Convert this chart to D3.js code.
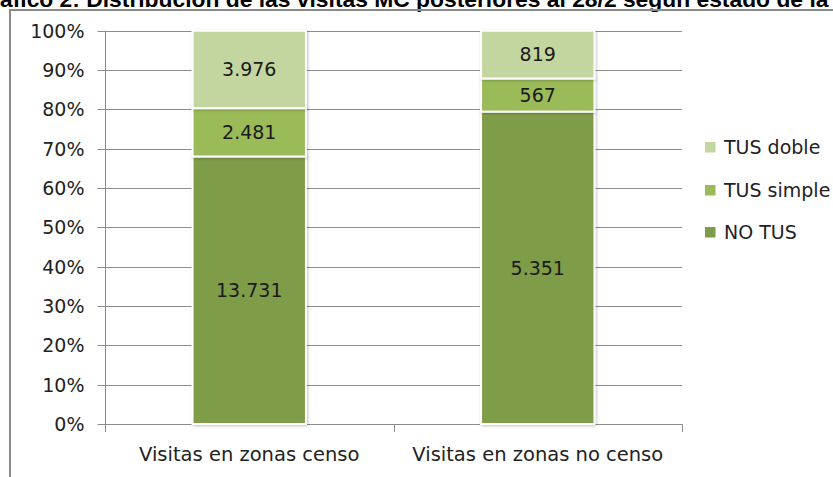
<!DOCTYPE html>
<html><head><meta charset="utf-8">
<script src="https://cdn.jsdelivr.net/npm/d3@7"></script>
<style>
html,body{margin:0;padding:0;background:#fff;overflow:hidden;}
svg{display:block;}
</style></head>
<body>
<svg id="chart" width="833" height="477"></svg>
<script>
// ---- data ----
const title = "Gráfico 2: Distribución de las visitas MC posteriores al 28/2 según estado de la TUS";
const categories = ["Visitas en zonas censo", "Visitas en zonas no censo"];
const seriesNames = ["NO TUS", "TUS simple", "TUS doble"];
const noTus = [13731, 5351];
const tusSimple = [2481, 567];
const tusDoble = [3976, 819];
const yTickValues = [0, 0.1, 0.2, 0.3, 0.4, 0.5, 0.6, 0.7, 0.8, 0.9, 1.0];

// ---- setup ----
const colors = {"NO TUS": "#7f9c4a", "TUS simple": "#9bbb59", "TUS doble": "#c4d69f"};
const font = "'DejaVu Sans', sans-serif";
const svg = d3.select("#chart");
const W = 833, H = 477;
const plot = {left: 105, right: 682, top: 30.7, bottom: 424};

const rows = categories.map((c, i) => ({cat: c, "NO TUS": noTus[i], "TUS simple": tusSimple[i], "TUS doble": tusDoble[i]}));
const stacked = d3.stack().keys(seriesNames).offset(d3.stackOffsetExpand)(rows);

const x = d3.scaleBand().domain(categories).range([plot.left, plot.right]).padding(0);
const y = d3.scaleLinear().domain([0, 1]).range([plot.bottom, plot.top]);
const barW = x.bandwidth() * 0.393;

const loc = d3.formatLocale({decimal: ",", thousands: ".", grouping: [3], currency: ["", ""]});
const fmtNum = loc.format(",d");
const fmtPct = d3.format(".0%");

// defs: shadow
const defs = svg.append("defs");
const f = defs.append("filter").attr("id", "sh").attr("x", "-10%").attr("y", "-10%").attr("width", "120%").attr("height", "120%");
f.append("feDropShadow").attr("dx", 1).attr("dy", 1).attr("stdDeviation", 1.5).attr("flood-color", "#000").attr("flood-opacity", 0.25);

// title (top partially clipped, as in reference)
const t = svg.append("text").attr("y", 7).attr("font-family", "'Liberation Sans', Arial, sans-serif")
  .attr("font-weight", "bold").attr("font-size", 16).attr("fill", "#000").text(title);
const tmp = svg.append("text").attr("font-family", "'Liberation Sans', Arial, sans-serif").attr("font-weight", "bold").attr("font-size", 16)
  .text("áfico 2: Distribución de las visitas MC");
const wPart = tmp.node().getComputedTextLength();
const fs = 16 * 410 / wPart;
tmp.attr("font-size", fs).text("Gr");
const wGr = tmp.node().getComputedTextLength();
tmp.remove();
t.attr("font-size", fs).attr("x", -wGr);

// outer chart border
svg.append("line").attr("x1", 10).attr("x2", 10).attr("y1", 10).attr("y2", H).attr("stroke", "#8a8a8a").attr("stroke-width", 2);
svg.append("line").attr("x1", 9).attr("x2", W).attr("y1", 10).attr("y2", 10).attr("stroke", "#8a8a8a").attr("stroke-width", 2);

// gridlines
svg.append("g").selectAll("line").data(yTickValues).join("line")
  .attr("x1", plot.left).attr("x2", plot.right)
  .attr("y1", d => Math.round(y(d)) + 0.5).attr("y2", d => Math.round(y(d)) + 0.5)
  .attr("stroke", "#8c8c8c").attr("stroke-width", 1);

// y axis
const yAxis = svg.append("g").attr("transform", `translate(${plot.left + 0.5},0)`)
  .call(d3.axisLeft(y).tickValues(yTickValues).tickFormat(fmtPct).tickSize(8).tickPadding(13));
yAxis.select(".domain").attr("stroke", "#8c8c8c").attr("d", `M0,${plot.top}V${plot.bottom + 8}`);
yAxis.selectAll(".tick line").attr("stroke", "#8c8c8c");
yAxis.selectAll(".tick").attr("transform", d => `translate(0,${Math.round(y(d)) + 0.5})`);
yAxis.selectAll(".tick text").attr("font-family", font).attr("font-size", 19).attr("fill", "#222");

// x axis ticks at band boundaries
const xEdges = categories.map(c => x(c)).concat([plot.right]);
svg.append("g").selectAll("line").data(xEdges).join("line")
  .attr("x1", d => Math.round(d) + 0.5).attr("x2", d => Math.round(d) + 0.5)
  .attr("y1", plot.bottom).attr("y2", plot.bottom + 8).attr("stroke", "#8c8c8c");
svg.append("g").selectAll("text").data(categories).join("text")
  .attr("x", d => x(d) + x.bandwidth() / 2).attr("y", 461)
  .attr("text-anchor", "middle").attr("font-family", font).attr("font-size", 19.5).attr("fill", "#222")
  .text(d => d);

// bars
const gBars = svg.append("g");
stacked.forEach(s => {
  gBars.append("g").selectAll("rect").data(s).join("rect")
    .attr("x", d => x(d.data.cat) + x.bandwidth() / 2 - barW / 2)
    .attr("width", barW)
    .attr("y", d => y(d[1]))
    .attr("height", d => y(d[0]) - y(d[1]))
    .attr("fill", colors[s.key])
    .attr("stroke", "#fff").attr("stroke-width", 2)
    .attr("filter", "url(#sh)");
});
// labels
stacked.forEach(s => {
  gBars.append("g").selectAll("text").data(s).join("text")
    .attr("x", d => x(d.data.cat) + x.bandwidth() / 2)
    .attr("y", d => (y(d[0]) + y(d[1])) / 2)
    .attr("dy", "0.36em")
    .attr("text-anchor", "middle").attr("font-family", font).attr("font-size", 19).attr("fill", "#1a1a1a")
    .text(d => fmtNum(d.data[s.key]));
});

// legend
const legendY = {"TUS doble": 147, "TUS simple": 190, "NO TUS": 232};
const lg = svg.append("g");
seriesNames.slice().reverse().forEach(n => {
  lg.append("rect").attr("x", 705).attr("y", legendY[n] - 5).attr("width", 10.5).attr("height", 10.5).attr("fill", colors[n]);
  lg.append("text").attr("x", 724).attr("y", legendY[n]).attr("dy", "0.36em")
    .attr("font-family", font).attr("font-size", 19).attr("fill", "#222").text(n);
});
</script>
</body></html>
